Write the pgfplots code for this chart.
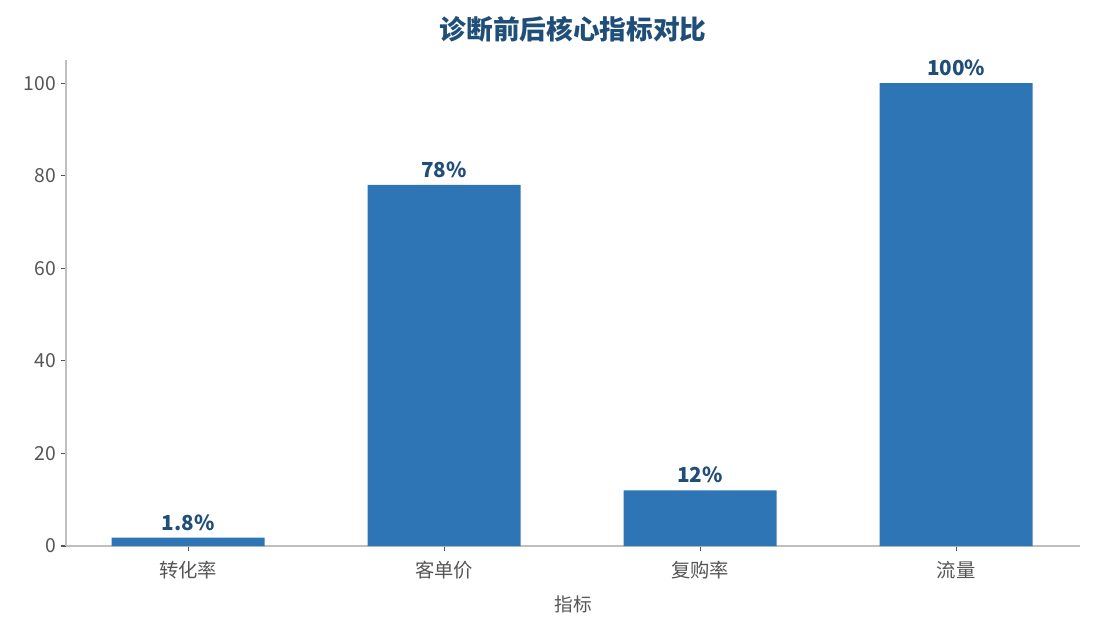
\documentclass[border=0pt]{standalone}
\usepackage{fontspec}
\setmainfont{Noto Sans CJK SC}
\usepackage{pgfplots}
\pgfplotsset{compat=1.18}
\definecolor{barblue}{HTML}{2E75B6}
\definecolor{darkblue}{HTML}{1F4E79}
\definecolor{axisgray}{HTML}{BFBFBF}
\definecolor{textgray}{HTML}{555555}
\begin{document}
\begin{tikzpicture}
\useasboundingbox (-49.5pt,-62.25pt) rectangle (771.75pt,409.5pt);
\begin{axis}[
    at={(0,0)}, anchor=south west,
    scale only axis,
    width=760.5pt, height=364.5pt,
    ymin=0, ymax=105,
    xmin=-0.477, xmax=3.484,
    axis lines*=left,
    axis line style={axisgray, line width=1pt},
    ybar, bar width=114.75pt,
    xtick=data,
    xticklabels={转化率,客单价,复购率,流量},
    ytick={0,20,40,60,80,100},
    tick style={textgray, line width=0.8pt},
    tick align=outside,
    major tick length=4pt,
    ticklabel style={font=\fontsize{14.5}{16}\selectfont, text=textgray},
    xticklabel style={yshift=-4pt},
    /pgf/number format/assume math mode=true,
    xlabel={指标},
    xlabel style={font=\fontsize{14}{16}\selectfont, text=textgray, yshift=-5.5pt},
    title={\textbf{诊断前后核心指标对比}},
    title style={font=\fontsize{20}{22}\selectfont, text=darkblue, yshift=4pt},
    nodes near coords={\pgfmathprintnumber{\pgfplotspointmeta}\%},
    nodes near coords style={font=\fontsize{15.5}{17}\selectfont\bfseries, text=darkblue, yshift=2pt},
    clip=false,
]
\addplot[fill=barblue, draw=none] coordinates {(0,1.8) (1,78) (2,12) (3,100)};
\end{axis}
\end{tikzpicture}
\end{document}
